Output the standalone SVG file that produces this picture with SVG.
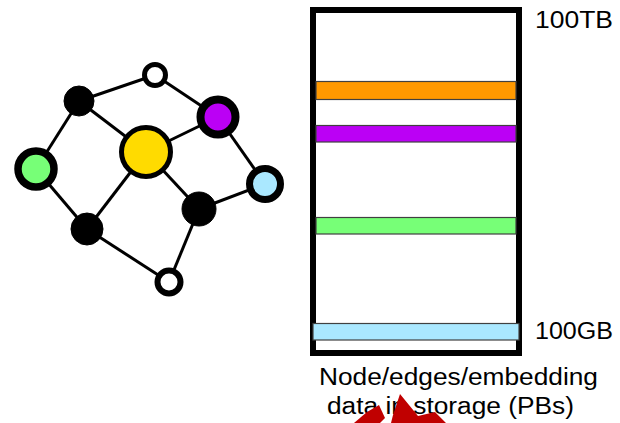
<svg xmlns="http://www.w3.org/2000/svg" width="620" height="423" viewBox="0 0 620 423">
  <style>
    .edge { stroke: #000; stroke-width: 3; fill: none; }
    .node { stroke: #000; }
    .band { stroke: #404040; stroke-width: 1.2; }
    .lbl { font-family: "Liberation Sans", Arial, sans-serif; font-size: 23.5px; fill: #000; }
  </style>
  <rect width="620" height="423" fill="#fff"/>

  <!-- graph edges -->
  <g id="connectors">
    <line class="edge" x1="155" y1="75" x2="79" y2="101"/>
    <line class="edge" x1="155" y1="75" x2="218" y2="117"/>
    <line class="edge" x1="79" y1="101" x2="36" y2="169"/>
    <line class="edge" x1="79" y1="101" x2="146" y2="152"/>
    <line class="edge" x1="146" y1="152" x2="218" y2="117"/>
    <line class="edge" x1="218" y1="117" x2="265" y2="184"/>
    <line class="edge" x1="36" y1="169" x2="87" y2="229"/>
    <line class="edge" x1="146" y1="152" x2="87" y2="229"/>
    <line class="edge" x1="146" y1="152" x2="199" y2="209"/>
    <line class="edge" x1="199" y1="209" x2="265" y2="184"/>
    <line class="edge" x1="199" y1="209" x2="169" y2="282"/>
    <line class="edge" x1="87" y1="229" x2="169" y2="282"/>
  </g>

  <!-- graph nodes -->
  <g id="n-top"><circle class="node" cx="155" cy="75" r="10.5" fill="#fff" stroke-width="5"/></g>
  <g id="n-black-tl"><circle class="node" cx="79" cy="101" r="15" fill="#000" stroke-width="1"/></g>
  <g id="n-purple"><circle class="node" cx="218" cy="117" r="17.5" fill="#bb00f5" stroke-width="8"/></g>
  <g id="n-yellow"><circle class="node" cx="146" cy="152" r="24.5" fill="#ffdb00" stroke-width="5"/></g>
  <g id="n-green"><circle class="node" cx="36" cy="169" r="18" fill="#77ff77" stroke-width="7.5"/></g>
  <g id="n-lightblue"><circle class="node" cx="265" cy="184" r="15.5" fill="#aae8ff" stroke-width="7"/></g>
  <g id="n-black-r"><circle class="node" cx="199" cy="209" r="17" fill="#000" stroke-width="1"/></g>
  <g id="n-black-bl"><circle class="node" cx="87" cy="229" r="16" fill="#000" stroke-width="1"/></g>
  <g id="n-bottom"><circle class="node" cx="169" cy="282" r="11.5" fill="#fff" stroke-width="6"/></g>

  <!-- storage column -->
  <g id="storage">
    <rect x="313" y="10" width="206" height="343" fill="#fff" stroke="#000" stroke-width="6"/>
    <rect class="band" x="316" y="81.5" width="200" height="18" fill="#ff9900"/>
    <rect class="band" x="316" y="125.5" width="200" height="16.5" fill="#bb00f5"/>
    <rect class="band" x="316" y="217.5" width="200" height="16.5" fill="#77ff77"/>
    <rect class="band" x="313" y="323.5" width="206" height="16.5" fill="#aae8ff"/>
  </g>

  <!-- labels -->
  <g id="labels">
    <text class="lbl" x="535" y="28" textLength="78" lengthAdjust="spacingAndGlyphs">100TB</text>
    <text class="lbl" x="535" y="338.5" textLength="78" lengthAdjust="spacingAndGlyphs">100GB</text>
    <text class="lbl" x="319" y="384.5" textLength="279" lengthAdjust="spacingAndGlyphs">Node/edges/embedding</text>
    <text class="lbl" x="327" y="413.5" textLength="247" lengthAdjust="spacingAndGlyphs">data in storage (PBs)</text>
  </g>

  <!-- red marker partly over the caption -->
  <g id="red-mark" fill="#c00000">
    <polygon points="354,423 367,412 379,405 385,418 380,423"/>
    <polygon points="391,423 393,415 400,394 418,416 435,412 446,423"/>
  </g>
</svg>
